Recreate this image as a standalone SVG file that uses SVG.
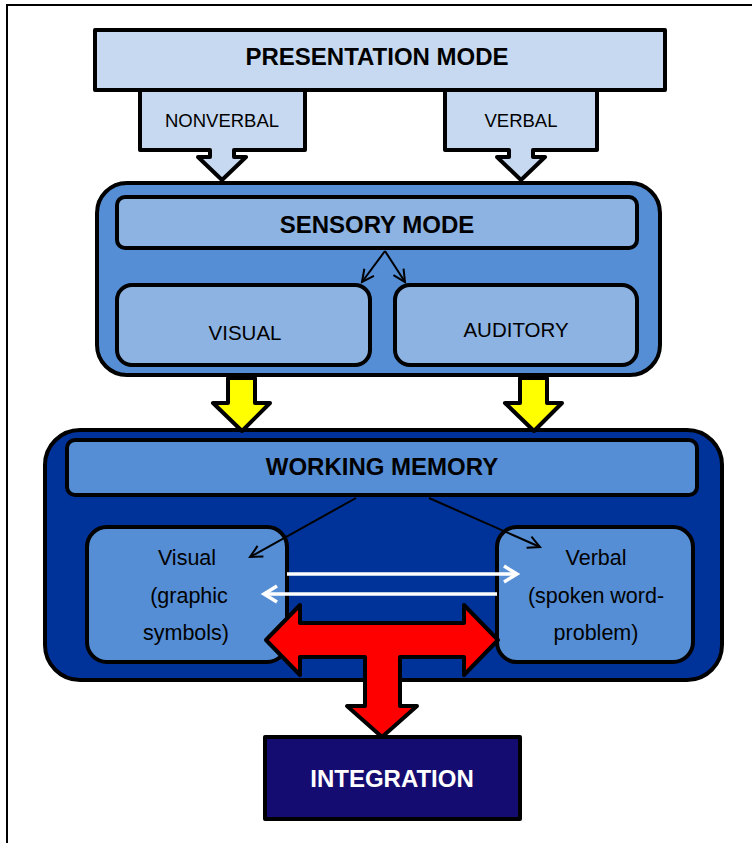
<svg xmlns="http://www.w3.org/2000/svg" width="752" height="843" viewBox="0 0 752 843">
  <style>
    .box { stroke: #000; stroke-width: 4; stroke-linejoin: round; }
    .pale { fill: #c6d9f1; }
    .mid { fill: #558ed5; }
    .light { fill: #8db3e2; }
    .deep { fill: #003399; }
    .navy { fill: #140c70; }
    .head { font-family: "Liberation Sans", Arial, sans-serif; font-weight: bold; font-size: 24px; text-anchor: middle; fill: #000; }
    .tab { font-family: "Liberation Sans", Arial, sans-serif; font-size: 18.5px; text-anchor: middle; fill: #000; }
    .lbl { font-family: "Liberation Sans", Arial, sans-serif; font-size: 20.5px; text-anchor: middle; fill: #000; }
    .sub { font-family: "Liberation Sans", Arial, sans-serif; font-size: 21.5px; text-anchor: middle; fill: #000; }
    .thin { stroke: #000; stroke-width: 2; fill: none; }
    .white { stroke: #fff; stroke-width: 3.5; fill: none; }
  </style>
  <defs>
    <marker id="openBlack" markerUnits="userSpaceOnUse" markerWidth="20" markerHeight="20" refX="13" refY="7" orient="auto" viewBox="0 0 20 14">
      <path d="M1,1 L13,7 L1,13" fill="none" stroke="#000" stroke-width="2"/>
    </marker>
    <marker id="openWhite" markerUnits="userSpaceOnUse" markerWidth="22" markerHeight="22" refX="15" refY="9" orient="auto" viewBox="0 0 22 18">
      <path d="M2,1 L15,9 L2,17" fill="none" stroke="#fff" stroke-width="3.5"/>
    </marker>
  </defs>

  <!-- page frame -->
  <rect x="7" y="5" width="770" height="860" fill="none" stroke="#000" stroke-width="2"/>

  <!-- presentation mode with its two output tabs -->
  <g id="nonverbal">
    <path class="box pale" d="M140,88 V150 H210 V157 H198 L222,180 L246,157 H234 V150 H305 V88"/>
    <text class="tab" x="222" y="127">NONVERBAL</text>
  </g>
  <g id="verbal">
    <path class="box pale" d="M445,88 V150 H509 V157 H497 L521,180 L545,157 H533 V150 H597 V88"/>
    <text class="tab" x="521" y="127">VERBAL</text>
  </g>
  <g id="presentation-mode">
    <rect class="box pale" x="95" y="30" width="570" height="60"/>
    <text class="head" x="377" y="65">PRESENTATION MODE</text>
  </g>

  <!-- sensory mode -->
  <g id="sensory-mode">
    <rect class="box mid" x="97" y="183" width="563" height="192" rx="30"/>
    <rect class="box light" x="117" y="197" width="520" height="51" rx="8"/>
    <text class="head" x="377" y="233">SENSORY MODE</text>
  </g>
  <g id="visual">
    <rect class="box light" x="117" y="285" width="253" height="80" rx="15"/>
    <text class="lbl" x="245" y="340">VISUAL</text>
  </g>
  <g id="auditory">
    <rect class="box light" x="395" y="285" width="242" height="80" rx="15"/>
    <text class="lbl" x="516" y="337">AUDITORY</text>
  </g>

  <!-- working memory -->
  <g id="working-memory">
    <rect class="box deep" x="45" y="430" width="677" height="250" rx="35"/>
    <rect class="box mid" x="67" y="440" width="630" height="55" rx="8"/>
    <text class="head" x="382" y="475">WORKING MEMORY</text>
  </g>
  <g id="wm-visual">
    <rect class="box mid" x="87" y="527" width="200" height="135" rx="20"/>
    <text class="sub" x="187" y="565">Visual</text>
    <text class="sub" x="189" y="603">(graphic</text>
    <text class="sub" x="186" y="640">symbols)</text>
  </g>
  <g id="wm-verbal">
    <rect class="box mid" x="497" y="527" width="196" height="135" rx="20"/>
    <text class="sub" x="596" y="565">Verbal</text>
    <text class="sub" x="596" y="603">(spoken word-</text>
    <text class="sub" x="596" y="640">problem)</text>
  </g>

  <!-- integration -->
  <g id="integration">
    <rect class="box navy" x="265" y="737" width="255" height="82"/>
    <text class="head" x="392" y="787" style="fill:#fff">INTEGRATION</text>
  </g>

  <!-- connectors -->
  <g id="connectors">
    <line class="thin" x1="385" y1="251" x2="362" y2="282" marker-end="url(#openBlack)"/>
    <line class="thin" x1="385" y1="251" x2="405" y2="282" marker-end="url(#openBlack)"/>

    <path class="box" fill="#ffff00" d="M228,378 H255 V403 H270 L242,431 L213,403 H228 Z"/>
    <path class="box" fill="#ffff00" d="M520,378 H547 V403 H562 L534,431 L505,403 H520 Z"/>

    <line class="thin" x1="356" y1="498" x2="250" y2="557" marker-end="url(#openBlack)"/>
    <line class="thin" x1="429" y1="498" x2="540" y2="547" marker-end="url(#openBlack)"/>

    <line class="white" x1="287" y1="574" x2="517" y2="574" marker-end="url(#openWhite)"/>
    <line class="white" x1="497" y1="594" x2="264" y2="594" marker-end="url(#openWhite)"/>

    <path class="box" fill="#ff0000" d="M266,640 L300,605 V623 H464 V605 L498,640 L464,675 V657 H400 V706 H417 L382,737 L347,706 H365 V657 H300 V675 Z"/>
  </g>
</svg>
